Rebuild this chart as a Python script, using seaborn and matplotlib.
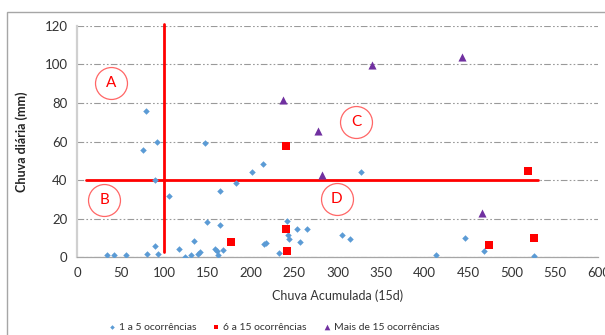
import matplotlib
matplotlib.use("Agg")
import matplotlib.pyplot as plt
from matplotlib.patches import Rectangle
import seaborn as sns
import pandas as pd

# Series: accumulated 15-day rain (x) vs daily rain (y), by number of occurrences
labels = ["1 a 5 ocorrências", "6 a 15 ocorrências", "Mais de 15 ocorrências"]

x_baixo = [33.8, 42.6, 56.4, 80.6, 89.8, 92.9, 89.5, 78.8, 92.1, 76.0, 106.0, 116.8,
           124.0, 131.0, 134.8, 139.4, 141.3, 147.0, 149.0, 158.8, 160.7, 162.4, 167.8,
           164.3, 164.3, 183.1, 201.4, 213.7, 215.4, 217.0, 232.0, 241.1, 242.3, 243.5,
           253.4, 256.1, 264.2, 304.9, 314.1, 326.7, 413.1, 446.9, 468.8, 526.4]
y_baixo = [1.2, 0.9, 1.2, 1.7, 5.5, 1.4, 40.2, 75.8, 59.7, 55.6, 31.5, 4.0,
           0.2, 1.2, 8.1, 1.7, 2.6, 59.1, 18.0, 4.3, 3.3, 1.0, 3.5,
           34.1, 16.4, 38.4, 44.2, 48.2, 6.6, 7.1, 2.1, 18.7, 11.4, 9.5,
           14.5, 7.8, 14.5, 11.6, 9.2, 44.2, 1.2, 9.9, 3.0, 0.4]

x_medio = [177.4, 240.4, 241.5, 240.4, 473.8, 518.7, 526.0]
y_medio = [7.8, 14.7, 3.1, 57.5, 6.1, 44.7, 9.9]

x_alto = [236.5, 277.6, 282.2, 339.8, 443.4, 466.1]
y_alto = [81.5, 65.4, 42.8, 99.6, 103.7, 22.7]

x_ticks = [0, 50, 100, 150, 200, 250, 300, 350, 400, 450, 500, 550, 600]
y_ticks = [0, 20, 40, 60, 80, 100, 120]

# Thresholds that split the chart into quadrants
limite_acumulada = 100
limite_diaria = 40

df = pd.concat([
    pd.DataFrame({"x": x_baixo, "y": y_baixo, "grupo": labels[0]}),
    pd.DataFrame({"x": x_medio, "y": y_medio, "grupo": labels[1]}),
    pd.DataFrame({"x": x_alto, "y": y_alto, "grupo": labels[2]}),
])

sns.set_style("white")
plt.rcParams["font.family"] = ["Lato", "DejaVu Sans"]

fig = plt.figure(figsize=(6.05, 3.35), dpi=100)
ax = fig.add_axes([0.1278, 0.2328, 0.8612, 0.6896])

estilos = {
    labels[0]: dict(marker="D", color="#5B9BD5", s=11),
    labels[1]: dict(marker="s", color="#FF0000", s=26),
    labels[2]: dict(marker="^", color="#7030A0", s=34),
}
for g in labels:
    st = estilos[g]
    sns.scatterplot(data=df[df["grupo"] == g], x="x", y="y", ax=ax,
                    marker=st["marker"], color=st["color"], s=st["s"],
                    linewidth=0, label=g, zorder=4)

ax.set_xlim(0, 600)
ax.set_ylim(0, 120)
ax.set_xticks(x_ticks)
ax.set_yticks(y_ticks)

# Dash-dot-dot horizontal gridlines
ax.grid(axis="y", color="#9A9A9A", linewidth=0.8,
        linestyle=(0, (6, 2, 1.5, 2, 1.5, 2)))
ax.grid(axis="x", visible=False)
ax.set_axisbelow(True)

for side in ["top", "right"]:
    ax.spines[side].set_visible(False)
ax.spines["left"].set_color("#D0D0D0")
ax.spines["left"].set_linewidth(1.6)
ax.spines["bottom"].set_color("#A6A6A6")
ax.spines["bottom"].set_linewidth(0.9)
ax.tick_params(axis="both", direction="out", length=4, width=0.8,
               color="#A6A6A6", labelsize=9.5, labelcolor="#333333", pad=3)

ax.set_xlabel("Chuva Acumulada (15d)", fontsize=9, color="#333333", labelpad=8)
ax.set_ylabel("Chuva diária (mm)", fontsize=9, fontweight="bold",
              color="#222222", labelpad=12)

# Quadrant divider lines
ax.plot([limite_acumulada, limite_acumulada], [2.7, 121], color="#FF0000",
        linewidth=2, clip_on=False, zorder=3)
ax.plot([10, 530], [limite_diaria, limite_diaria], color="#FF0000",
        linewidth=2, clip_on=False, zorder=3)

# Quadrant tags
quadrantes = {"A": (38.8, 90.3), "B": (31.0, 29.5), "C": (321.3, 70.3), "D": (298.7, 30.2)}
for letra, (qx, qy) in quadrantes.items():
    ax.plot(qx, qy, marker="o", markersize=23, markerfacecolor="none",
            markeredgecolor="#FF6666", markeredgewidth=0.9, zorder=5)
    ax.text(qx, qy, letra, color="#FF0000", fontsize=11,
            ha="center", va="center", zorder=6)

ax.get_legend().remove()
handles, leg_labels = ax.get_legend_handles_labels()
fig.legend(handles, leg_labels, loc="center", bbox_to_anchor=(274 / 605, 1 - 327 / 335),
           ncol=3, frameon=False, fontsize=7.5, handlelength=0.6, handletextpad=0.4,
           columnspacing=1.6, markerscale=0.7, labelcolor="#333333")

# Chart area border
fig.patches.append(Rectangle((7 / 605, -0.1), 1.0, 1 - 12 / 335 + 0.1,
                             transform=fig.transFigure, fill=False,
                             edgecolor="#A6A6A6", linewidth=1.0))

fig.savefig("out.png", dpi=100)
